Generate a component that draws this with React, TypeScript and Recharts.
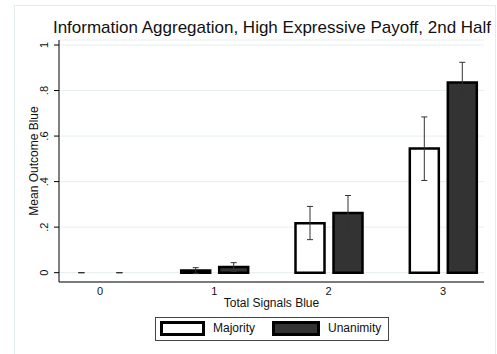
import React from "react";
import {
  BarChart,
  Bar,
  XAxis,
  YAxis,
  CartesianGrid,
  ErrorBar,
  Legend,
  Rectangle,
} from "recharts";

const FONT = '"Liberation Sans", Arial, Helvetica, sans-serif';

// total blue signals in the group
const signals = [0, 1, 2, 3];
// mean outcome (share of blue outcomes) by voting rule
const majority = [0, 0.009, 0.217, 0.545];
const majorityLow = [0, -0.004, 0.145, 0.405];
const majorityHigh = [0, 0.022, 0.291, 0.684];
const unanimity = [0, 0.025, 0.262, 0.835];
const unanimityLow = [0, 0.006, 0.189, 0.754];
const unanimityHigh = [0, 0.044, 0.339, 0.924];
const yTicks = [0, 0.2, 0.4, 0.6, 0.8, 1];

const data = signals.map((s, i) => ({
  signals: s,
  majority: majority[i],
  unanimity: unanimity[i],
  majorityErr: [majority[i] - majorityLow[i], majorityHigh[i] - majority[i]],
  unanimityErr: [unanimity[i] - unanimityLow[i], unanimityHigh[i] - unanimity[i]],
}));

// Stata style: ".8" rather than "0.8"
function stataNum(v: number): string {
  if (v === 0 || v === 1) return String(v);
  return String(v).replace(/^0/, "");
}

// a bar of height zero still shows its (degenerate) confidence cap
function BarShape(props: any) {
  const { x, y, width, height } = props;
  if (Math.abs(height) < 0.5) {
    const cx = x + width / 2;
    return <line x1={cx - 3} x2={cx + 3} y1={y} y2={y} stroke="#333" strokeWidth={1} />;
  }
  return <Rectangle {...props} />;
}

function YTick({ x, y, payload }: any) {
  const bx = x - 5.5;
  return (
    <text
      x={bx}
      y={y}
      transform={`rotate(-90 ${bx} ${y})`}
      textAnchor="middle"
      fontFamily={FONT}
      fontSize={11}
      fill="#111"
    >
      {stataNum(payload.value)}
    </text>
  );
}

function XTick({ x, y, payload }: any) {
  return (
    <text x={x} y={y + 13} textAnchor="middle" fontFamily={FONT} fontSize={11} fill="#111">
      {payload.value}
    </text>
  );
}

function YTitle({ viewBox }: any) {
  const cy = viewBox.y + viewBox.height / 2;
  return (
    <text
      x={38}
      y={cy}
      transform={`rotate(-90 38 ${cy})`}
      textAnchor="middle"
      fontFamily={FONT}
      fontSize={12}
      fill="#111"
    >
      Mean Outcome Blue
    </text>
  );
}

function XTitle({ viewBox }: any) {
  return (
    <text
      x={viewBox.x + viewBox.width / 2}
      y={viewBox.y + 25}
      textAnchor="middle"
      fontFamily={FONT}
      fontSize={12}
      fill="#111"
    >
      Total Signals Blue
    </text>
  );
}

const keyPos = [
  { swatch: 4, width: 39, text: 57 },
  { swatch: 116, width: 42, text: 172 },
];

function LegendBox({ payload }: any) {
  const items = payload ?? [];
  return (
    <div
      style={{
        position: "relative",
        width: 232,
        height: 22,
        border: "1px solid #444",
        background: "#fff",
        fontFamily: FONT,
        fontSize: 12,
        color: "#111",
      }}
    >
      {items.map((it: any, i: number) => (
        <React.Fragment key={it.value}>
          <div
            style={{
              position: "absolute",
              left: keyPos[i].swatch,
              top: 3,
              width: keyPos[i].width,
              height: 9,
              border: "3px solid #000",
              background: it.color,
            }}
          />
          <span
            style={{
              position: "absolute",
              left: keyPos[i].text,
              top: 3,
              lineHeight: "14px",
              whiteSpace: "nowrap",
            }}
          >
            {it.value}
          </span>
        </React.Fragment>
      ))}
    </div>
  );
}

export default function App() {
  return (
    <div
      style={{
        position: "absolute",
        left: 0,
        top: 0,
        width: 497,
        height: 354,
        overflow: "hidden",
        background: "#fff",
      }}
    >
      <div
        style={{
          position: "absolute",
          left: 14,
          top: 5,
          width: 480,
          height: 400,
          borderLeft: "1px solid #e2ecef",
          borderTop: "1px solid #e2ecef",
          borderRight: "1px solid #e2ecef",
        }}
      />
      <div
        style={{
          position: "absolute",
          left: 0,
          top: 19,
          width: 544,
          textAlign: "center",
          fontFamily: FONT,
          fontSize: 17,
          lineHeight: "17px",
          color: "#111",
          whiteSpace: "nowrap",
        }}
      >
        Information Aggregation, High Expressive Payoff, 2nd Half
      </div>
      <BarChart
        width={497}
        height={354}
        data={data}
        margin={{ top: 40, right: 13, left: 0, bottom: 0 }}
        barGap={9}
        style={{ position: "absolute", left: 0, top: 0 }}
      >
        <CartesianGrid vertical={false} stroke="#e5eef0" strokeWidth={1} />
        <XAxis
          type="number"
          dataKey="signals"
          domain={[-0.359, 3.359]}
          ticks={signals}
          allowDataOverflow
          height={72}
          tickLine={false}
          tickSize={0}
          tickMargin={0}
          stroke="#000"
          tick={<XTick />}
          label={<XTitle />}
        />
        <YAxis
          type="number"
          domain={[-0.041, 1.022]}
          ticks={yTicks}
          allowDataOverflow
          width={59}
          tickSize={5}
          tickMargin={0}
          stroke="#000"
          tick={<YTick />}
          label={<YTitle />}
        />
        <Legend
          layout="horizontal"
          verticalAlign="middle"
          align="center"
          wrapperStyle={{ left: 155, top: 317, width: 234 }}
          content={<LegendBox />}
        />
        <Bar
          dataKey="majority"
          name="Majority"
          fill="#ffffff"
          stroke="#000"
          strokeWidth={2.5}
          barSize={29}
          shape={<BarShape />}
          isAnimationActive={false}
        >
          <ErrorBar dataKey="majorityErr" width={3} stroke="#333" strokeWidth={1} isAnimationActive={false} />
        </Bar>
        <Bar
          dataKey="unanimity"
          name="Unanimity"
          fill="#333333"
          stroke="#000"
          strokeWidth={2.5}
          barSize={29}
          shape={<BarShape />}
          isAnimationActive={false}
        >
          <ErrorBar dataKey="unanimityErr" width={3} stroke="#333" strokeWidth={1} isAnimationActive={false} />
        </Bar>
      </BarChart>
    </div>
  );
}
